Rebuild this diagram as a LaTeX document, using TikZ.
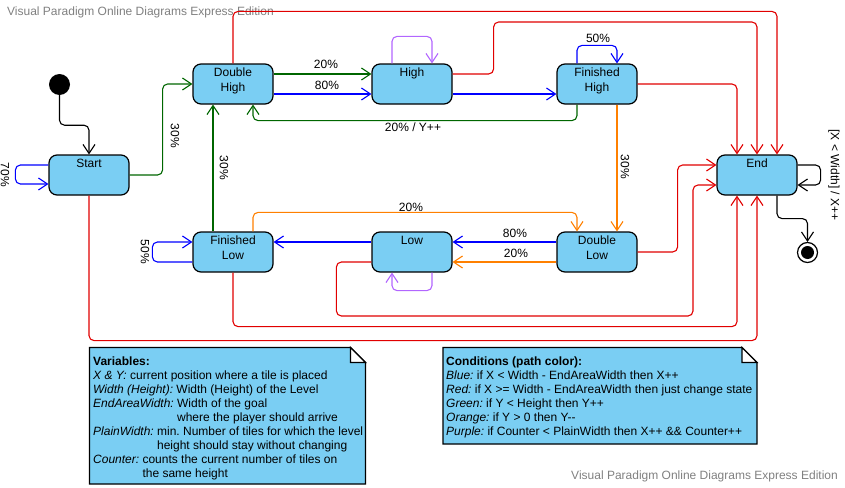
\documentclass[tikz,border=0pt]{standalone}
\usepackage{fontspec}
\setmainfont{Liberation Sans}
\usetikzlibrary{arrows.meta}
\frenchspacing
\definecolor{stfill}{RGB}{122,206,243}
\definecolor{cred}{RGB}{225,0,0}
\definecolor{cblue}{RGB}{0,0,255}
\definecolor{cgreen}{RGB}{0,102,0}
\definecolor{corange}{RGB}{255,128,0}
\definecolor{cpurple}{RGB}{178,102,255}
\tikzstyle{state}=[rectangle, rounded corners=8pt, draw=black, line width=1.2pt,
                   fill=stfill, minimum width=80pt, minimum height=40pt,
                   inner sep=3pt, font=\fontsize{12}{14.5}\selectfont]
\tikzstyle{dot}=[circle, inner sep=0pt, minimum size=21pt, fill=black]
\tikzstyle{lbl}=[inner sep=0pt, font=\fontsize{12}{14}\selectfont]
\tikzstyle{tr}=[line width=1.1pt, rounded corners=5pt,
                -{Straight Barb[length=9pt,width=12pt]}]
\tikzstyle{note}=[draw=black, line width=1.2pt, fill=stfill]
\tikzstyle{wm}=[inner sep=0pt, text=black!50, font=\fontsize{12}{14}\selectfont]
\newcommand{\stlab}[1]{\parbox[c][34pt][t]{74pt}{\centering\rule{0pt}{9.5pt}#1}}

\begin{document}
\begin{tikzpicture}[x=1pt, y=-1pt]
    \useasboundingbox (0,0) rectangle (845,487);
    \node[wm, anchor=west] (wmtop) at (7,12) {Visual Paradigm Online Diagrams Express Edition};
    \node[wm, anchor=east] (wmbot) at (838,476.5) {Visual Paradigm Online Diagrams Express Edition};
    % states
    \node[dot] (init) at (59.5,84.5) {};
    \node[state] (start) at (89,175) {\stlab{Start}};
    \node[state] (dhigh) at (233,84) {\stlab{Double\\High}};
    \node[state] (high) at (412,84) {\stlab{High}};
    \node[state] (fhigh) at (597,84) {\stlab{Finished\\High}};
    \node[state] (stend) at (757,175) {\stlab{End}};
    \node[state] (flow) at (233,252) {\stlab{Finished\\Low}};
    \node[state] (low) at (412,252) {\stlab{Low}};
    \node[state] (dlow) at (597,252) {\stlab{Double\\Low}};
    \node[circle, draw=black, line width=1.2pt, fill=white, minimum size=20pt,
          inner sep=0pt] (final) at (807.5,252.5) {};
    \node[circle, fill=black, minimum size=13pt, inner sep=0pt] (finaldot) at (final) {};
    % straight transitions
    \foreach \src/\dst/\dy/\col in {dhigh/high/10/cgreen, dhigh/high/-10/cblue,
          high/fhigh/-10/cblue}
      \draw[tr, \col] ([yshift=\dy pt]\src.east) -- ([yshift=\dy pt]\dst.west);
    \foreach \src/\dst/\dy/\col in {dlow/low/10/cblue, dlow/low/-10/corange,
          low/flow/10/cblue}
      \draw[tr, \col] ([yshift=\dy pt]\src.west) -- ([yshift=\dy pt]\dst.east);
    \draw[tr, cgreen] ([xshift=-20pt]flow.north) -- ([xshift=-20pt]dhigh.south);
    \draw[tr, corange] ([xshift=20pt]fhigh.south) -- ([xshift=20pt]dlow.north);
    % routed transitions
    \draw[tr, black] (init.south) -- ++(0,30) -| (start.north);
    \draw[tr, cblue] ([yshift=10pt]start.west) -- ++(-33,0) |- ([yshift=-9pt]start.west);
    \draw[tr, cgreen] (start.east) -- ++(33,0) |- (dhigh.west);
    \draw[tr, cgreen] ([xshift=-20pt]fhigh.south) -- ++(0,16) -| ([xshift=20pt]dhigh.south);
    \draw[tr, cpurple] ([xshift=-20pt]high.north) -- ++(0,-27) -| ([xshift=20pt]high.north);
    \draw[tr, cblue] ([xshift=-20pt]fhigh.north) -- ++(0,-18) -| ([xshift=20pt]fhigh.north);
    \draw[tr, cred] ([yshift=10pt]high.east) -- ++(41,0) -- ++(0,-52) -| (stend.north);
    \draw[tr, cred] (dhigh.north) -- ++(0,-52) -| ([xshift=20pt]stend.north);
    \draw[tr, cred] (fhigh.east) -| ([xshift=-20pt]stend.north);
    \draw[tr, cred] (dlow.east) -- ++(40,0) |- ([yshift=10pt]stend.west);
    \draw[tr, cred] ([yshift=-10pt]low.west) -- ++(-35,0) |- (693,316)
        |- ([yshift=-10pt]stend.west);
    \draw[tr, cred] (flow.south) -- ++(0,54) -| ([xshift=-20pt]stend.south);
    \draw[tr, cred] (start.south) -- ++(0,145) -| (stend.south);
    \draw[tr, black] ([yshift=10pt]stend.east) -- ++(23,0) |- ([yshift=-10pt]stend.east);
    \draw[tr, black] ([xshift=20pt]stend.south) -- ++(0,23) -| (final.north);
    \draw[tr, cblue] ([yshift=-10pt]flow.west) -- ++(-40,0) |- ([yshift=10pt]flow.west);
    \draw[tr, cpurple] ([xshift=20pt]low.south) -- ++(0,18) -| ([xshift=-20pt]low.south);
    \draw[tr, corange] ([xshift=20pt]flow.north) -- ++(0,-19) -| ([xshift=-20pt]dlow.north);
    % labels
    \node[lbl, rotate=-90] (l70) at (5,175) {70\%};
    \node[lbl, rotate=-90] (l30a) at (175,136) {30\%};
    \node[lbl, rotate=-90] (l30b) at (224,168) {30\%};
    \node[lbl, rotate=-90] (l30c) at (625,167) {30\%};
    \node[lbl, rotate=-90] (l50b) at (145,252) {50\%};
    \node[lbl, rotate=-90] (lloop) at (834,175) {[X < Width] / X++};
    \node[lbl] (l20a) at (326,64) {20\%};
    \node[lbl] (l80a) at (327,85) {80\%};
    \node[lbl] (l20y) at (413,127) {20\% / Y++};
    \node[lbl] (l50a) at (598,38) {50\%};
    \node[lbl] (l20b) at (411,207) {20\%};
    \node[lbl] (l80b) at (515,233) {80\%};
    \node[lbl] (l20c) at (516,253) {20\%};
    % notes
    \draw[note] (89.5,347.5) -- (350.5,347.5) -- (365.5,362.5) -- (365.5,484)
        -- (89.5,484) -- cycle;
    \draw[note, fill=white] (350.5,347.5) -- (350.5,362.5) -- (365.5,362.5) -- cycle;
    \node[lbl, anchor=north west, align=left] (vars) at (93,356.5) {\textbf{Variables:}\\
      \textit{X \& Y:} current position where a tile is placed\\
      \textit{Width (Height):} Width (Height) of the Level\\
      \textit{EndAreaWidth:} Width of the goal\\
      \phantom{\textit{EndAreaWidth:} }where the player should arrive\\
      \textit{PlainWidth:} min. Number of tiles for which the level\\
      \phantom{\textit{PlainWidth:} }height should stay without changing\\
      \textit{Counter:} counts the current number of tiles on\\
      \phantom{\textit{Counter:} }the same height};
    \draw[note] (443,347.5) -- (742,347.5) -- (757,362.5) -- (757,444)
        -- (443,444) -- cycle;
    \draw[note, fill=white] (742,347.5) -- (742,362.5) -- (757,362.5) -- cycle;
    \node[lbl, anchor=north west, align=left] (conds) at (446,356.5) {\textbf{Conditions (path color):}\\
      \textit{Blue:} if X < Width - EndAreaWidth then X++\\
      \textit{Red:} if X >= Width - EndAreaWidth then just change state\\
      \textit{Green:} if Y < Height then Y++\\
      \textit{Orange:} if Y > 0 then Y-{}-\\
      \textit{Purple:} if Counter < PlainWidth then X++ \&\& Counter++};
\end{tikzpicture}
\end{document}
